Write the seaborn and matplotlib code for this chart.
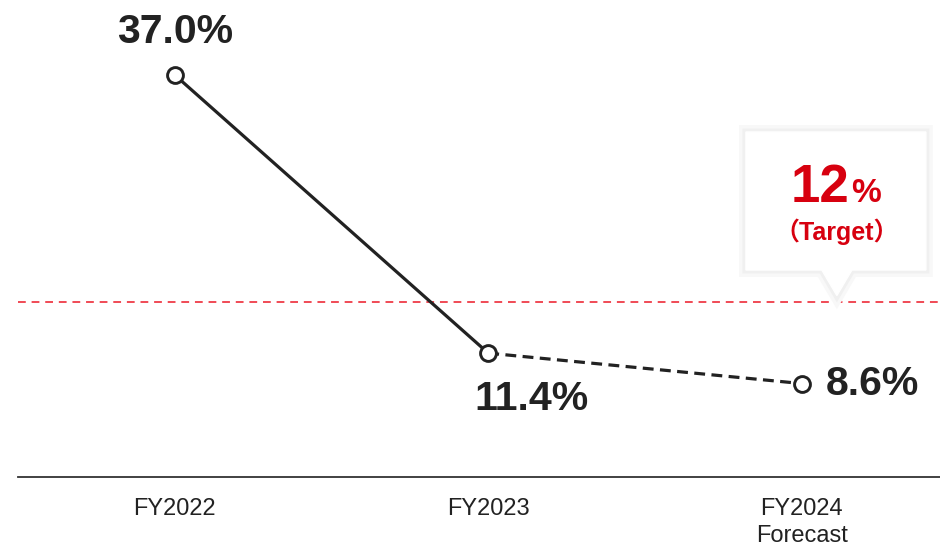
import matplotlib.pyplot as plt
import matplotlib.patheffects as pe
import pandas as pd
import seaborn as sns

# data
years = ["FY2022", "FY2023", "FY2024\nForecast"]
ratio = [37.0, 11.4, 8.6]
value_labels = ["37.0%", "11.4%", "8.6%"]
target_value = "12"
target_caption = "（Target）"
target_line = 16.1  # where the red dashed line sits on the chart's scale

df = pd.DataFrame({"year": years, "ratio": ratio, "pos": range(len(years))})

sns.set_style("white")
plt.rcParams["font.family"] = ["Liberation Sans", "Noto Sans CJK JP", "DejaVu Sans"]

fig = plt.figure(figsize=(9.4, 5.48), dpi=100)
ax = fig.add_axes([18 / 940, 71 / 548, 922 / 940, 477 / 548])

ink = "#222222"
red = "#d7000f"

# actual (solid) and forecast (dashed) segments
sns.lineplot(data=df.iloc[:2], x="pos", y="ratio", ax=ax, color=ink, lw=2.3, zorder=3)
sns.lineplot(data=df.iloc[1:], x="pos", y="ratio", ax=ax, color=ink, lw=2.3,
             linestyle=(0, (3.4, 2.0)), zorder=3)
sns.scatterplot(data=df, x="pos", y="ratio", ax=ax, s=130, marker="o", color="white",
                edgecolor=ink, linewidth=2.1, zorder=5)

# target line
ax.axhline(target_line, color="#f04a55", lw=1.4, ls=(0, (4, 3)), zorder=2)

# value labels
offsets = [((0, 31), "center"), ((31, -33), "center"), ((17, 0), "left")]
for x, y, lab, (off, ha) in zip(df["pos"], df["ratio"], value_labels, offsets):
    ax.annotate(lab, (x, y), xytext=off, textcoords="offset points", ha=ha, va="center",
                fontsize=29.5, fontweight="bold", color=ink, zorder=6)

# callout box for the target
x0, x1, y0, y1 = 1.822, 2.396, 19.05, 31.75
tx, hw, tip = 2.112, 0.048, 16.7
box = plt.Polygon([(x0, y1), (x1, y1), (x1, y0), (tx + hw, y0), (tx, tip), (tx - hw, y0), (x0, y0)],
                  closed=True, facecolor="white", edgecolor="white", lw=1, zorder=4)
box.set_path_effects([pe.Stroke(linewidth=10, foreground="#f8f8f8"),
                      pe.Stroke(linewidth=5, foreground="#f0f0f0"), pe.Normal()])
ax.add_patch(box)
ax.text(2.151, 25.3, target_value, ha="right", va="baseline", fontsize=38,
        fontweight="bold", color=red, zorder=6)
ax.text(2.157, 25.3, "%", ha="left", va="baseline", fontsize=24,
        fontweight="bold", color=red, zorder=6)
ax.text(tx, 22.6, target_caption, ha="center", va="center", fontsize=18,
        fontweight="bold", color=red, zorder=6)

ax.set_xlim(-0.5, 2.441)
ax.set_ylim(0, 43.9)
ax.set_xticks(df["pos"])
ax.set_xticklabels(years, fontsize=17, color=ink, linespacing=1.3)
ax.set_yticks([])
ax.set_xlabel("")
ax.set_ylabel("")
ax.tick_params(axis="x", length=0, pad=15)
for side in ["top", "right", "left"]:
    ax.spines[side].set_visible(False)
ax.spines["bottom"].set_color("#333333")
ax.spines["bottom"].set_linewidth(1.3)

fig.savefig("out.png", dpi=100)
